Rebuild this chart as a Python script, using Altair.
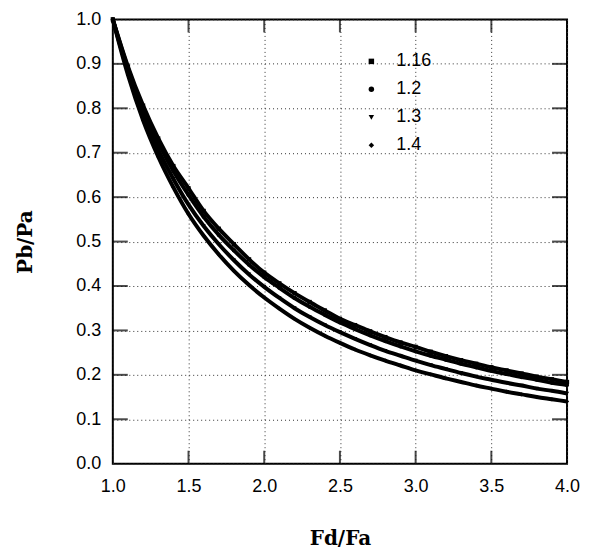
import altair as alt
import pandas as pd

# Fd/Fa sample positions (read at 0.1 steps)
fd_fa = [1.0, 1.1, 1.2, 1.3, 1.4, 1.5, 1.6, 1.7, 1.8, 1.9, 2.0,
         2.1, 2.2, 2.3, 2.4, 2.5, 2.6, 2.7, 2.8, 2.9, 3.0,
         3.1, 3.2, 3.3, 3.4, 3.5, 3.6, 3.7, 3.8, 3.9, 4.0]

pb_116 = [1.000, 0.894, 0.806, 0.732, 0.670, 0.620, 0.569, 0.529, 0.494, 0.460, 0.430,
          0.406, 0.384, 0.364, 0.345, 0.326, 0.312, 0.298, 0.285, 0.273, 0.263,
          0.252, 0.242, 0.233, 0.225, 0.217, 0.210, 0.203, 0.196, 0.190, 0.184]
pb_12 = [1.000, 0.890, 0.799, 0.724, 0.659, 0.605, 0.556, 0.515, 0.480, 0.448, 0.420,
         0.396, 0.373, 0.353, 0.335, 0.318, 0.303, 0.289, 0.276, 0.264, 0.253,
         0.243, 0.234, 0.225, 0.217, 0.209, 0.202, 0.195, 0.189, 0.182, 0.177]
pb_13 = [1.000, 0.883, 0.786, 0.707, 0.641, 0.583, 0.535, 0.494, 0.458, 0.426, 0.398,
         0.373, 0.350, 0.330, 0.312, 0.296, 0.281, 0.267, 0.254, 0.243, 0.232,
         0.222, 0.213, 0.204, 0.196, 0.189, 0.182, 0.176, 0.169, 0.164, 0.158]
pb_14 = [1.000, 0.875, 0.773, 0.691, 0.622, 0.562, 0.513, 0.471, 0.434, 0.402, 0.374,
         0.349, 0.326, 0.306, 0.288, 0.272, 0.257, 0.244, 0.232, 0.221, 0.210,
         0.201, 0.192, 0.184, 0.176, 0.169, 0.162, 0.156, 0.150, 0.145, 0.140]

series_names = ["1.16", "1.2", "1.3", "1.4"]
series_values = [pb_116, pb_12, pb_13, pb_14]
series_shapes = ["square", "circle", "triangle-down", "diamond"]

x_ticks = [1.5, 2.0, 2.5, 3.0, 3.5]
y_ticks = [0.1, 0.2, 0.3, 0.4, 0.5, 0.6, 0.7, 0.8, 0.9]
x_labels = [1.0, 1.5, 2.0, 2.5, 3.0, 3.5, 4.0]
y_labels = [0.0, 0.1, 0.2, 0.3, 0.4, 0.5, 0.6, 0.7, 0.8, 0.9, 1.0]

rows = []
for name, vals in zip(series_names, series_values):
    for xv, yv in zip(fd_fa, vals):
        rows.append({"Fd/Fa": xv, "Pb/Pa": yv, "k": name})
df = pd.DataFrame(rows)

xscale = alt.Scale(domain=[1.0, 4.0], nice=False, zero=False)
yscale = alt.Scale(domain=[0.0, 1.0], nice=False, zero=False)

xaxis = alt.Axis(values=x_labels, format=".1f", title="Fd/Fa", ticks=False,
                 labelPadding=14, titlePadding=33, grid=True, labelFlush=False)
yaxis = alt.Axis(values=y_labels, format=".1f", title="Pb/Pa", ticks=False,
                 labelPadding=12, titlePadding=40, grid=True, labelFlush=False)

base = alt.Chart(df)

lines = base.mark_line(color="black", strokeWidth=4, interpolate="monotone").encode(
    x=alt.X("Fd/Fa:Q", scale=xscale, axis=xaxis),
    y=alt.Y("Pb/Pa:Q", scale=yscale, axis=yaxis),
    detail="k:N",
)

points = base.mark_point(filled=True, color="black", size=18, opacity=1).encode(
    x=alt.X("Fd/Fa:Q", scale=xscale),
    y=alt.Y("Pb/Pa:Q", scale=yscale),
    shape=alt.Shape("k:N", scale=alt.Scale(domain=series_names, range=series_shapes),
                    legend=alt.Legend(title=None, orient="none", legendX=250, legendY=33,
                                      labelFontSize=18, labelFont="Liberation Sans",
                                      labelColor="black", symbolFillColor="black",
                                      symbolStrokeColor="black", symbolSize=30,
                                      rowPadding=10, labelOffset=16)),
)

xt = pd.DataFrame({"xt": x_ticks})
yt = pd.DataFrame({"yt": y_ticks})

bottom_ticks = alt.Chart(xt).mark_tick(orient="vertical", color="black", size=13,
                                       thickness=2, yOffset=-6.5).encode(
    x=alt.X("xt:Q", scale=xscale), y=alt.datum(0.0, scale=yscale))
top_ticks = alt.Chart(xt).mark_tick(orient="vertical", color="black", size=13,
                                    thickness=2, yOffset=6.5).encode(
    x=alt.X("xt:Q", scale=xscale), y=alt.datum(1.0, scale=yscale))
left_ticks = alt.Chart(yt).mark_tick(orient="horizontal", color="black", size=15,
                                     thickness=2, xOffset=7.5).encode(
    y=alt.Y("yt:Q", scale=yscale), x=alt.datum(1.0, scale=xscale))
right_ticks = alt.Chart(yt).mark_tick(orient="horizontal", color="black", size=15,
                                      thickness=2, xOffset=-7.5).encode(
    y=alt.Y("yt:Q", scale=yscale), x=alt.datum(4.0, scale=xscale))

chart = alt.layer(lines, points, bottom_ticks, top_ticks, left_ticks, right_ticks).properties(
    width=455, height=445,
    autosize=alt.AutoSizeParams(type="none"),
    padding={"left": 105, "top": 11, "right": 20, "bottom": 87},
    background="white",
).configure_view(
    stroke="black", strokeWidth=2
).configure_axis(
    domain=False,
    gridColor="#333", gridDash=[1, 3], gridWidth=1,
    labelFont="Liberation Sans", labelFontSize=18, labelColor="black",
    titleFont="DejaVu Serif", titleFontSize=20, titleFontWeight="bold", titleColor="black",
)

chart.save("out.html", embed_options={"renderer": "svg", "actions": False})
